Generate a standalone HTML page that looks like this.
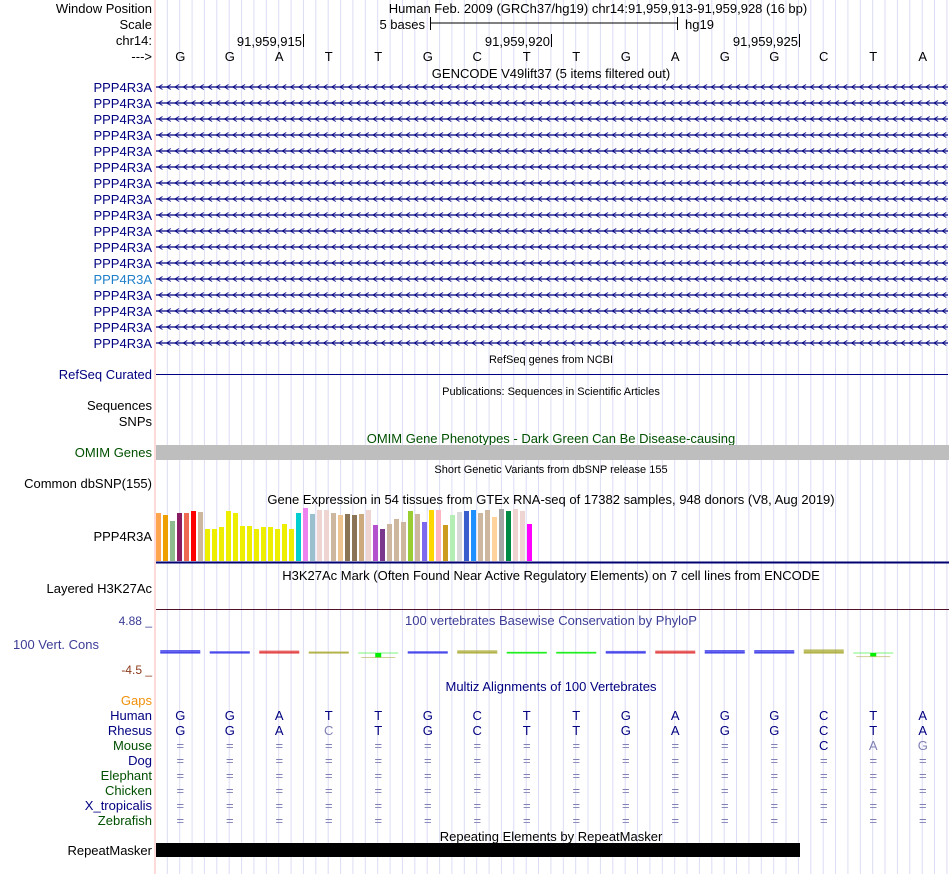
<!DOCTYPE html>
<html><head><meta charset="utf-8">
<style>
html,body{margin:0;padding:0;background:#fff;}
svg{display:block;font-family:"Liberation Sans",Arial,sans-serif;}
</style></head>
<body>
<svg id="root" width="950" height="874" viewBox="0 0 950 874" xmlns="http://www.w3.org/2000/svg">
<g id="grid"></g>
<line x1="155" y1="0" x2="155" y2="874" stroke="#ffb4b4" stroke-width="1"/>
<g id="content" font-size="13"></g>
</svg>
<script>
// ---- data ----
const bases = ["G","G","A","T","T","G","C","T","T","G","A","G","G","C","T","A"];
const rhesus = ["G","G","A","C","T","G","C","T","T","G","A","G","G","C","T","A"];
const rhesusDiff = [3];
const mouse = ["=","=","=","=","=","=","=","=","=","=","=","=","=","C","A","G"];
const mouseLight = [14,15];
const gtexTissueColors = ["#FFA54F","#EEA000","#8FBC8F","#8B1C62","#EE6A50","#FF0000","#CDB79E","#EEEE00","#EEEE00","#EEEE00","#EEEE00","#EEEE00","#EEEE00","#EEEE00","#EEEE00","#EEEE00","#EEEE00","#EEEE00","#EEEE00","#EEEE00","#00CED1","#EE82EE","#9AC0CD","#EED5D2","#EED5D2","#CDB79E","#EEC591","#8B7355","#8B7355","#CDAA7D","#EED5D2","#B452CD","#7A378B","#CDB79E","#CDB79E","#CDB79E","#9ACD32","#CDB79E","#7B68EE","#FFD700","#FFB6C1","#CD9B1D","#B4EEB4","#D9D9D9","#3A5FCD","#1E90FF","#CDB79E","#CDB79E","#FFD39B","#A6A6A6","#008B45","#EED5D2","#EED5D2","#FF00FF"];
const gtexValues = [48,46,40,48,48,50,49,32,32,34,50,48,35,35,32,34,34,32,37,32,48,53,47,51,51,48,46,47,46,47,51,36,32,37,42,39,50,47,39,51,51,36,46,49,50,51,48,51,44,52,50,52,50,37];
const phyloValues = [1,0.6,0.8,0.5,-1.5,0.6,0.9,0.4,0.4,0.7,0.8,1,1,1.2,-1.2,null];
const phyloColors = ["#3030e8","#3030e8","#e03030","#a8a830","#00ee00","#3030e8","#a8a830","#00ee00","#00ee00","#3030e8","#e03030","#3030e8","#3030e8","#a8a830","#00ee00",null];

// ---- axes ----
const X0 = 155.5, BW = 49.5;
function xBase(i){ return X0 + BW*i + BW/2; }
const GT_X0 = 156, GT_STEP = 7, GT_BASE = 561, GT_SCALE = 1;
function xGtex(i){ return GT_X0 + GT_STEP*i; }
function yGtex(v){ return GT_BASE - v*GT_SCALE; }
const PH_ZERO = 653, PH_SCALE = 3;
function yPhylo(v){ return PH_ZERO - v*PH_SCALE; }

const NS = "http://www.w3.org/2000/svg";
const content = document.getElementById('content');
const gridG = document.getElementById('grid');
function mk(tag, attrs, parent){
  const e = document.createElementNS(NS, tag);
  for (const k in attrs) e.setAttribute(k, attrs[k]);
  (parent||content).appendChild(e);
  return e;
}
function txt(x,y,s,opt){
  opt = opt||{};
  const e = mk('text',{x:x,y:y,'text-anchor':opt.anchor||'start',fill:opt.fill||'#000','font-size':opt.size||13});
  e.textContent = s;
  
  
  return e;
}

// grid
for (let x = 167.3; x < 950; x += 12.375) {
  const l = mk('line',{x1:x.toFixed(1),y1:0,x2:x.toFixed(1),y2:874,stroke:'#dcdcf4','stroke-width':1}, gridG);
  
  
}

// header
txt(152,13,"Window Position",{anchor:'end',name:'window-position-label'});
txt(152,29,"Scale",{anchor:'end',name:'scale-label'});
txt(152,45,"chr14:",{anchor:'end',name:'chrom-label'});
txt(152,61,"--->",{anchor:'end',name:'strand-label'});
txt(598,13,"Human Feb. 2009 (GRCh37/hg19)   chr14:91,959,913-91,959,928 (16 bp)",{anchor:'middle',name:'window-position'}).setAttribute('xml:space','preserve');
txt(425,29,"5 bases",{anchor:'end',name:'scale-text'});
mk('line',{x1:430,y1:23,x2:678,y2:23,stroke:'#000'});
mk('line',{x1:430.5,y1:17,x2:430.5,y2:30,stroke:'#000'});
mk('line',{x1:677.5,y1:17,x2:677.5,y2:30,stroke:'#000'});
txt(685,29,"hg19",{name:'assembly-text'});
[[302,"91,959,915"],[550,"91,959,920"],[798,"91,959,925"]].forEach(p=>{
  txt(p[0],46,p[1],{anchor:'end',name:'position-tick-label'});
  mk('line',{x1:p[0]+1.5,y1:34,x2:p[0]+1.5,y2:47,stroke:'#000'});
});
bases.forEach((b,i)=>{ txt(xBase(i),61,b,{anchor:'middle',name:'base-letter'}); });

// GENCODE
txt(551,78,"GENCODE V49lift37 (5 items filtered out)",{anchor:'middle',name:'gencode-title'});
const defs = mk('defs',{});
const pat = mk('pattern',{id:'chev',x:157,y:0,width:8.25,height:8,patternUnits:'userSpaceOnUse'},defs);
mk('path',{d:'M5.5 1.5 L1.5 4 L5.5 6.5',stroke:'#000080',fill:'none','stroke-width':0.9},pat);
for (let r=0;r<17;r++){
  const y = 87 + r*16;
  txt(152,y+5,"PPP4R3A",{anchor:'end',fill: r===12?'#1e7fc8':'#000080',name:'gene-label',inter:true});
  const g = mk('g',{transform:`translate(0,${y-4})`});
  
  
  mk('line',{x1:156,y1:4,x2:948,y2:4,stroke:'#000080','stroke-width':1.2},g);
  mk('rect',{x:156,y:0,width:792,height:8,fill:'url(#chev)'},g);
}

// RefSeq
txt(551,363,"RefSeq genes from NCBI",{anchor:'middle',size:11,name:'refseq-title'});
txt(152,379,"RefSeq Curated",{anchor:'end',fill:'#000080',name:'refseq-label'});
mk('line',{x1:156,y1:374.5,x2:948,y2:374.5,stroke:'#000080','stroke-width':1});
txt(551,395,"Publications: Sequences in Scientific Articles",{anchor:'middle',size:11,name:'publications-title'});
txt(152,410,"Sequences",{anchor:'end',name:'sequences-label'});
txt(152,426,"SNPs",{anchor:'end',name:'snps-label'});

// OMIM
txt(551,443,"OMIM Gene Phenotypes - Dark Green Can Be Disease-causing",{anchor:'middle',fill:'#005000',name:'omim-title'});
txt(152,457,"OMIM Genes",{anchor:'end',fill:'#005000',name:'omim-label'});
mk('rect',{x:156,y:445,width:793,height:15,fill:'#bebebe',});
txt(551,473,"Short Genetic Variants from dbSNP release 155",{anchor:'middle',size:11,name:'dbsnp-title'});
txt(152,488,"Common dbSNP(155)",{anchor:'end',name:'dbsnp-label'});

// GTEx
txt(551,504,"Gene Expression in 54 tissues from GTEx RNA-seq of 17382 samples, 948 donors (V8, Aug 2019)",{anchor:'middle',name:'gtex-title'});
txt(152,541,"PPP4R3A",{anchor:'end',name:'gtex-gene-label'});
gtexValues.forEach((v,i)=>{
  const r = mk('rect',{x:xGtex(i),y:yGtex(v),width:5,height:GT_BASE-yGtex(v),fill:gtexTissueColors[i]});
  
  
});
mk('line',{x1:156,y1:562.5,x2:949,y2:562.5,stroke:'#000070','stroke-width':2});

// H3K27Ac
txt(551,580,"H3K27Ac Mark (Often Found Near Active Regulatory Elements) on 7 cell lines from ENCODE",{anchor:'middle',name:'h3k27ac-title'});
txt(152,593,"Layered H3K27Ac",{anchor:'end',name:'h3k27ac-label'});
mk('line',{x1:156,y1:609.5,x2:949,y2:609.5,stroke:'#501028','stroke-width':1});

// PhyloP
txt(551,625,"100 vertebrates Basewise Conservation by PhyloP",{anchor:'middle',fill:'#3c3c96',name:'phylop-title'});
txt(152,625,"4.88 _",{anchor:'end',fill:'#3c3c96',size:12,name:'phylop-max'});
txt(99,649,"100 Vert. Cons",{anchor:'end',fill:'#3c3c96',name:'phylop-label'});
txt(152,674,"-4.5 _",{anchor:'end',fill:'#8b3a1a',size:12,name:'phylop-min'});
phyloValues.forEach((v,i)=>{
  if (v===null) return;
  const x1 = xBase(i)-20, x2 = xBase(i)+20, c = phyloColors[i];
  const g = mk('g',{});
  
  
  if (v >= 0){
    const y = yPhylo(v);
    mk('rect',{x:x1,y:y,width:40,height:Math.max(1,PH_ZERO-y),fill:c,opacity:0.75},g);
    mk('line',{x1:x1,y1:PH_ZERO,x2:x2,y2:PH_ZERO,stroke:c,'stroke-width':1},g);
  } else {
    const y = yPhylo(v);
    mk('line',{x1:x1,y1:PH_ZERO,x2:x2,y2:PH_ZERO,stroke:c,'stroke-width':1,opacity:0.5},g);
    mk('rect',{x:xBase(i)-3,y:PH_ZERO,width:6,height:y-PH_ZERO,fill:c},g);
    mk('line',{x1:x1+3,y1:y,x2:x2-3,y2:y,stroke:'#b0b050','stroke-width':1,opacity:0.6},g);
  }
});

// Multiz
txt(551,691,"Multiz Alignments of 100 Vertebrates",{anchor:'middle',fill:'#000080',name:'multiz-title'});
txt(152,705,"Gaps",{anchor:'end',fill:'#f0900a',name:'gaps-label'});
const species = [["Human","#000080"],["Rhesus","#000080"],["Mouse","#005000"],["Dog","#000080"],["Elephant","#005000"],["Chicken","#005000"],["X_tropicalis","#000080"],["Zebrafish","#005000"]];
species.forEach((s,r)=>{
  const y = 720 + r*15;
  txt(152,y,s[0],{anchor:'end',fill:s[1],name:'species-label'});
  for (let i=0;i<16;i++){
    let ch='=', col='#8080b4';
    if (r===0){ ch=bases[i]; col='#000080'; }
    else if (r===1){ ch=rhesus[i]; col = rhesusDiff.includes(i)?'#8080b4':'#000080'; }
    else if (r===2){ ch=mouse[i]; col = ch==='='||mouseLight.includes(i)?'#8080b4':'#000080'; }
    txt(xBase(i),y,ch,{anchor:'middle',fill:col,name:'alignment-base'});
  }
});

// RepeatMasker
txt(551,841,"Repeating Elements by RepeatMasker",{anchor:'middle',name:'repeatmasker-title'});
txt(152,855,"RepeatMasker",{anchor:'end',name:'repeatmasker-label'});
mk('rect',{x:156,y:843,width:644,height:14,fill:'#000',});
</script>
</body></html>
